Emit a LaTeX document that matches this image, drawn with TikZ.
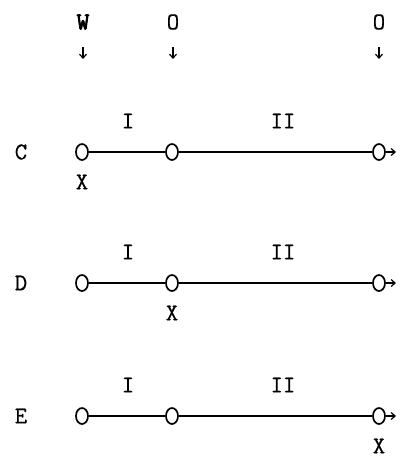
\documentclass[tikz,border=0pt]{standalone}
\usepackage{fontspec}
\newfontfamily\rowfont[FakeBold=0.6]{Latin Modern Mono}
\newfontfamily\wfont[FakeBold=3.5]{Latin Modern Mono}
\usetikzlibrary{shapes.geometric,arrows.meta}

\begin{document}
\begin{tikzpicture}[x=1pt,y=-1pt,
  stn/.style={ellipse,draw,line width=1.7pt,minimum width=12pt,minimum height=16pt,inner sep=0pt},
  lbl/.style={font=\rowfont\fontsize{24}{28}\selectfont,inner sep=0pt},
  tip/.style={-{Straight Barb[length=4pt,width=7pt]},line width=1.2pt}]

\useasboundingbox (0,0) rectangle (400,459);

% top markers
\node[lbl,font=\wfont\fontsize{24}{28}\selectfont] (w) at (83,22) {W};
\node[lbl] (o1) at (173,22) {O};
\node[lbl] (o2) at (379,22) {O};
\foreach \m/\x in {w/83,o1/173,o2/379} {
  \coordinate (\m a) at (\x,47);
  \coordinate (\m b) at (\x,59);
  \draw[tip] (\m a) -- (\m b);
}

% three rows
\foreach \r/\y/\xx in {C/152/82,D/283/172,E/416/379} {
  \node[lbl] (\r) at (21,\y) {\r};
  \node[stn] (\r1) at (82,\y) {};
  \node[stn] (\r2) at (172,\y) {};
  \node[stn] (\r3) at (379,\y) {};
  \coordinate (\r4) at (396,\y);
  \draw[line width=2.6pt] (\r1) -- (\r2) -- (\r3);
  \draw[tip] (\r3) -- (\r4);
  \node[lbl] (\r i) at (128,\y-31) {I};
  \node[lbl] (\r ii) at (283,\y-31) {II};
  \node[lbl] (\r x) at (\xx,\y+30) {X};
}

\end{tikzpicture}
\end{document}
